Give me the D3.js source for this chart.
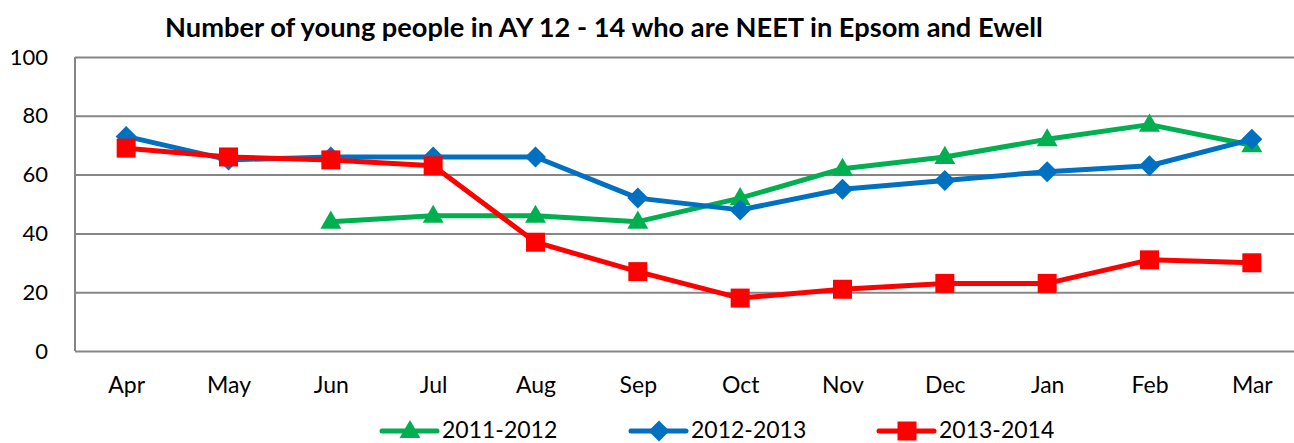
<!DOCTYPE html>
<html>
<head>
<meta charset="utf-8">
<script src="https://cdn.jsdelivr.net/npm/d3@7"></script>
<style>
html,body{margin:0;padding:0;background:#fff;overflow:hidden;}
svg{display:block;}
text{font-family:Lato,"Open Sans",sans-serif;fill:#000;}
</style>
</head>
<body>
<svg id="chart" width="1294" height="443"></svg>
<script>
const months = ["Apr","May","Jun","Jul","Aug","Sep","Oct","Nov","Dec","Jan","Feb","Mar"];
const seriesNames = ["2011-2012","2012-2013","2013-2014"];
const values2011 = [null,null,44,46,46,44,52,62,66,72,77,70];
const values2012 = [73,65,66,66,66,52,48,55,58,61,63,72];
const values2013 = [69,66,65,63,37,27,18,21,23,23,31,30];
const yTicks = [0,20,40,60,80,100];
const titleText = "Number of young people in AY 12 - 14 who are NEET in Epsom and Ewell";

(function(){
const colors = ["#00B050","#0070C0","#FF0000"];
const shapes = ["triangle","diamond","square"];
const allValues = [values2011, values2012, values2013];

const mLeft = 75, mRight = 1303, mTop = 57, mBottom = 351;
const svg = d3.select("#chart");

const x = d3.scalePoint().domain(months).range([mLeft, mRight]).padding(0.5);
const y = d3.scaleLinear().domain([0,100]).range([mBottom, mTop]);

// gridlines
const yAxis = d3.axisLeft(y).tickValues(yTicks).tickSize(-(mRight-mLeft)).tickPadding(27).tickFormat(d3.format("d"));
const gy = svg.append("g").attr("transform",`translate(${mLeft},0)`).call(yAxis);
gy.select(".domain").remove();
gy.selectAll(".tick line").attr("stroke","#868686").attr("stroke-width",2);
gy.selectAll(".tick text").style("font-size","22px").style("font-family","Lato, sans-serif").attr("fill","#000");

// left axis line
svg.append("line").attr("x1",mLeft).attr("x2",mLeft).attr("y1",mTop).attr("y2",mBottom)
  .attr("stroke","#868686").attr("stroke-width",2);

// x axis labels
const xAxis = d3.axisBottom(x).tickSize(0).tickPadding(26);
const gx = svg.append("g").attr("transform",`translate(0,${mBottom})`).call(xAxis);
gx.select(".domain").remove();
gx.selectAll(".tick text").style("font-size","23px").style("font-family","Lato, sans-serif").attr("fill","#000");

// symbols
function symbolPath(shape){
  if(shape==="triangle") return d3.symbol().type(d3.symbolTriangle).size(190)();
  if(shape==="diamond") return "M0,-10.5L10.5,0L0,10.5L-10.5,0Z";
  return d3.symbol().type(d3.symbolSquare).size(361)();
}
function symbolOffset(shape){ return shape==="triangle" ? 1 : 0; }

const line = d3.line().defined(d=>d.v!==null).x(d=>x(d.m)).y(d=>y(d.v));

allValues.forEach((vals,i)=>{
  const data = months.map((m,j)=>({m:m,v:vals[j]}));
  const g = svg.append("g");
  g.append("path").datum(data).attr("d",line).attr("fill","none")
    .attr("stroke",colors[i]).attr("stroke-width",5).attr("stroke-linejoin","round");
  g.selectAll("path.sym").data(data.filter(d=>d.v!==null)).enter().append("path")
    .attr("class","sym").attr("d",symbolPath(shapes[i]))
    .attr("transform",d=>`translate(${x(d.m)},${y(d.v)+symbolOffset(shapes[i])})`)
    .attr("fill",colors[i]);
});

// title
const title = svg.append("text").attr("x",604).attr("y",37).attr("text-anchor","middle")
  .style("font-weight","bold").style("font-size","22px").text(titleText);
const tw = title.node().getComputedTextLength();
title.style("font-size",(22*878/tw).toFixed(2)+"px");

// legend
const legendX = [382, 631, 879];
const legendY = 431;
seriesNames.forEach((name,i)=>{
  const g = svg.append("g").attr("transform",`translate(${legendX[i]},${legendY})`);
  g.append("line").attr("x1",0).attr("x2",55).attr("y1",0).attr("y2",0)
    .attr("stroke",colors[i]).attr("stroke-width",5).attr("stroke-linecap","round");
  g.append("path").attr("d",symbolPath(shapes[i]))
    .attr("transform",`translate(28,${symbolOffset(shapes[i])})`).attr("fill",colors[i]);
  g.append("text").attr("x",60).attr("y",6.5).style("font-size","23px").text(name);
});
})();
</script>
</body>
</html>
